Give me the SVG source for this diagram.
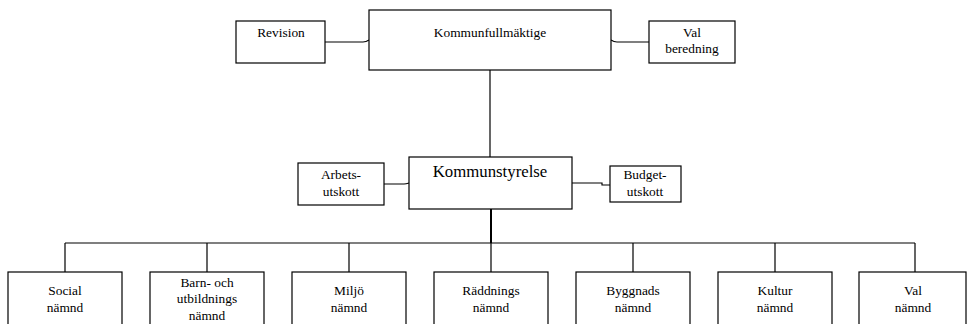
<svg xmlns="http://www.w3.org/2000/svg" width="967" height="324" viewBox="0 0 967 324">
<style>
.box{fill:#fff;stroke:#000;stroke-width:1.2}
text{font-family:'Liberation Serif','DejaVu Serif','Times New Roman',serif;font-size:13.4px;fill:#000;text-anchor:middle}
.big{font-size:16.8px}
.c{fill:none;stroke:#000;stroke-width:1.2}
</style>
<rect width="967" height="324" fill="#fff"/>
<g id="connectors">
<path class="c" d="M325 42 H363 Q366 42 369 40"/>
<path class="c" d="M611 40 Q614 42 617 42 H649"/>
<path class="c" d="M490 70 V157"/>
<path class="c" d="M384 184 H404 Q406 184 409 183"/>
<path class="c" d="M572 183 H602 V185 H610"/>
<path class="c" style="stroke-width:2" d="M491 209 V243"/>
<path class="c" d="M65 243 H915"/>
<path class="c" d="M65 243 V272 M207 243 V272 M349 243 V272 M491 243 V272 M633 243 V272 M775 243 V272 M915 243 V272"/>
</g>
<g id="kommunfullmaktige"><rect class="box" x="369" y="10" width="242" height="60"/><text x="490" y="37">Kommunfullmäktige</text></g>
<g id="revision"><rect class="box" x="236" y="21" width="89" height="42"/><text x="281" y="37">Revision</text></g>
<g id="valberedning"><rect class="box" x="649" y="21" width="86" height="42"/><text x="692" y="37">Val</text><text x="692" y="53">beredning</text></g>
<g id="kommunstyrelse"><rect class="box" x="409" y="157" width="163" height="52"/><text class="big" x="490" y="177">Kommunstyrelse</text></g>
<g id="arbetsutskott"><rect class="box" x="298" y="163" width="86" height="42"/><text x="341" y="179">Arbets-</text><text x="341" y="196">utskott</text></g>
<g id="budgetutskott"><rect class="box" x="610" y="166" width="71" height="36"/><text x="645" y="179">Budget-</text><text x="645" y="196">utskott</text></g>
<g id="social"><rect class="box" x="8" y="272" width="114" height="60"/><text x="65" y="295">Social</text><text x="65" y="312">nämnd</text></g>
<g id="barn"><rect class="box" x="150" y="272" width="114" height="60"/><text x="207" y="287">Barn- och</text><text x="207" y="303">utbildnings</text><text x="207" y="320">nämnd</text></g>
<g id="miljo"><rect class="box" x="292" y="272" width="114" height="60"/><text x="349" y="295">Miljö</text><text x="349" y="312">nämnd</text></g>
<g id="raddnings"><rect class="box" x="434" y="272" width="114" height="60"/><text x="491" y="295">Räddnings</text><text x="491" y="312">nämnd</text></g>
<g id="byggnads"><rect class="box" x="576" y="272" width="114" height="60"/><text x="633" y="295">Byggnads</text><text x="633" y="312">nämnd</text></g>
<g id="kultur"><rect class="box" x="718" y="272" width="114" height="60"/><text x="775" y="295">Kultur</text><text x="775" y="312">nämnd</text></g>
<g id="valnamnd"><rect class="box" x="859" y="272" width="107" height="60"/><text x="913" y="295">Val</text><text x="913" y="312">nämnd</text></g>
</svg>
